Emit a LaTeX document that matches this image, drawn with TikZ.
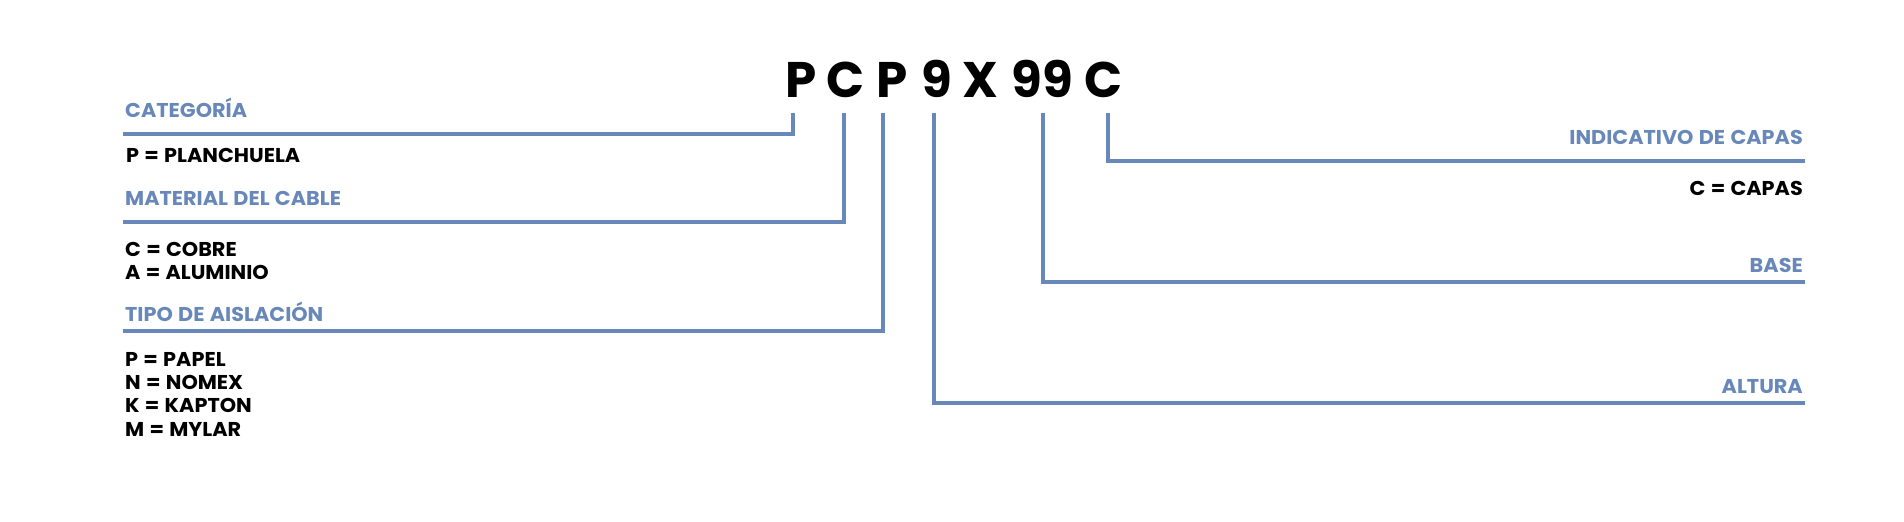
\documentclass[tikz,border=0pt]{standalone}
\usepackage{fontspec}
\setmainfont{Poppins}[UprightFont=* Bold, BoldFont=* Bold]
\newfontfamily\lblfont{Poppins}[UprightFont=* Bold, FakeStretch=1.04, WordSpace=1.2]
\definecolor{lblue}{RGB}{104,136,186}
\begin{document}
\begin{tikzpicture}[x=1pt,y=-1pt,
  conn/.style={draw=lblue,line width=4.6pt,line join=miter},
  head/.style={inner sep=0pt,text=lblue,font=\lblfont\fontsize{20}{20}\selectfont},
  val/.style={inner sep=0pt,text=black,font=\lblfont\fontsize{20}{20}\selectfont},
  big/.style={inner sep=0pt,text=black,font=\fontsize{50}{50}\selectfont,anchor=base}]
\useasboundingbox (0,0) rectangle (1904,522);
% code letters
\node[big] (l1) at (801,97) {P};
\node[big] (l2) at (846,97) {C};
\node[big] (l3) at (892,97) {P};
\node[big] (l4) at (937,97) {9};
\node[big] (l5) at (980,97) {X};
\node[big] (l6) at (1042,97) {99};
\node[big] (l7) at (1104,97) {C};
% left labels
\node[head,anchor=base west] (h1) at (125,117) {CATEGORÍA};
\node[val,anchor=base west] (v1) at (126,162) {P = PLANCHUELA};
\node[head,anchor=base west] (h2) at (125,205) {MATERIAL DEL CABLE};
\node[val,anchor=base west] (v2a) at (125,256) {C = COBRE};
\node[val,anchor=base west] (v2b) at (125,279) {A = ALUMINIO};
\node[head,anchor=base west] (h3) at (125,321) {TIPO DE AISLACIÓN};
\node[val,anchor=base west] (v3a) at (125,366) {P = PAPEL};
\node[val,anchor=base west] (v3b) at (125,389) {N = NOMEX};
\node[val,anchor=base west] (v3c) at (125,412) {K = KAPTON};
\node[val,anchor=base west] (v3d) at (125,436) {M = MYLAR};
% right labels
\node[head,anchor=base east] (h4) at (1803,144) {INDICATIVO DE CAPAS};
\node[val,anchor=base east] (v4) at (1803,195) {C = CAPAS};
\node[head,anchor=base east] (h5) at (1803,272) {BASE};
\node[head,anchor=base east] (h6) at (1803,393) {ALTURA};
% connector coordinates
\coordinate (t1) at (793,113);
\coordinate (t2) at (844,113);
\coordinate (t3) at (883,113);
\coordinate (t4) at (934,113);
\coordinate (t6) at (1043,113);
\coordinate (t7) at (1108,113);
\coordinate (e1) at (123,134);
\coordinate (e2) at (123,222);
\coordinate (e3) at (123,331);
\coordinate (e4) at (1805,403);
\coordinate (e6) at (1805,282);
\coordinate (e7) at (1805,161);
\draw[conn] (t1) |- (e1);
\draw[conn] (t2) |- (e2);
\draw[conn] (t3) |- (e3);
\draw[conn] (t4) |- (e4);
\draw[conn] (t6) |- (e6);
\draw[conn] (t7) |- (e7);
\end{tikzpicture}
\end{document}
